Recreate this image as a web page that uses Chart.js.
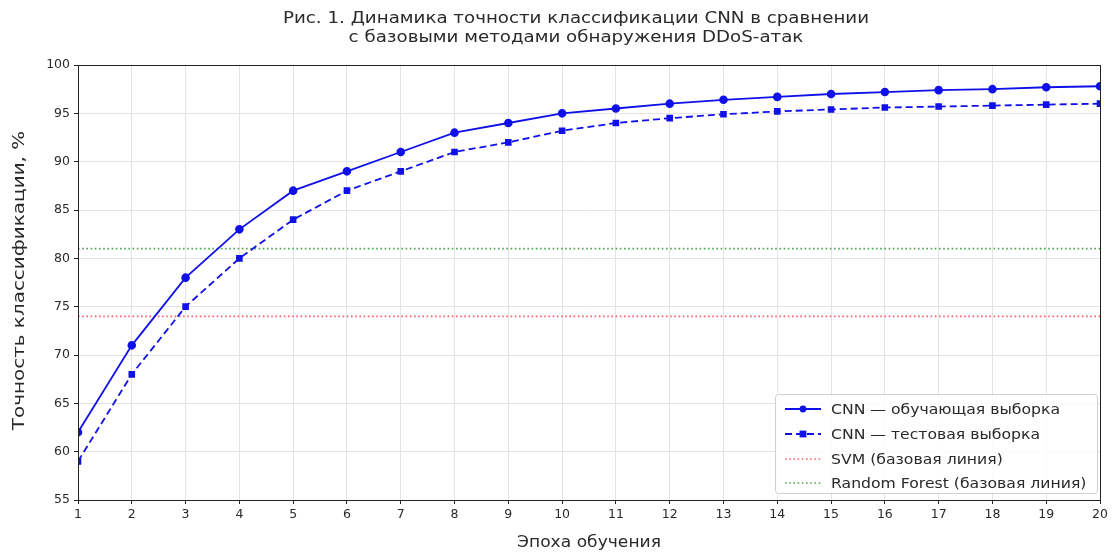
<!DOCTYPE html>
<html>
<head>
<meta charset="utf-8">
<script src="https://cdn.jsdelivr.net/npm/chart.js@4.4.1/dist/chart.umd.min.js"></script>
<style>
  html, body { margin: 0; padding: 0; background: #fff; }
  #c { display: block; }
</style>
</head>
<body>
<canvas id="c" width="1112" height="553"></canvas>
<script>
// Epochs and accuracy (%) per epoch
const epochs = [1, 2, 3, 4, 5, 6, 7, 8, 9, 10, 11, 12, 13, 14, 15, 16, 17, 18, 19, 20];
const trainAccuracy = [62, 71, 78, 83, 87, 89, 91, 93, 94, 95, 95.5, 96, 96.4, 96.7, 97, 97.2, 97.4, 97.5, 97.7, 97.8];
const testAccuracy  = [59, 68, 75, 80, 84, 87, 89, 91, 92, 93.2, 94, 94.5, 94.9, 95.2, 95.4, 95.6, 95.7, 95.8, 95.9, 96];
// Baseline methods (constant accuracy)
const svmBaseline = 74;
const rfBaseline = 81;
// Y axis ticks
const yTicks = [55, 60, 65, 70, 75, 80, 85, 90, 95, 100];

const seriesLabels = [
  'CNN — обучающая выборка',
  'CNN — тестовая выборка',
  'SVM (базовая линия)',
  'Random Forest (базовая линия)'
];
const titleLines = [
  'Рис. 1. Динамика точности классификации CNN в сравнении',
  'с базовыми методами обнаружения DDoS-атак'
];
const xAxisTitle = 'Эпоха обучения';
const yAxisTitle = 'Точность классификации, %';

const FONT = '"DejaVu Sans", sans-serif';
const BLUE = '#1010e8';
const TEXT = '#2a2a2a';

const toPoints = (xs, ys) => xs.map((x, i) => ({ x, y: ys[i] }));
const hline = v => [{ x: epochs[0], y: v }, { x: epochs[epochs.length - 1], y: v }];

// Text with a slightly widened face
function wideText(ctx, text, x, y, size, align, stretch, angle) {
  ctx.save();
  ctx.translate(x, y);
  if (angle) ctx.rotate(angle);
  ctx.scale(stretch, 1);
  ctx.font = size + 'px ' + FONT;
  ctx.textAlign = align;
  ctx.textBaseline = 'middle';
  ctx.fillText(text, 0, 0);
  ctx.restore();
}

// Title, axis titles, frame and in-plot legend
const decorations = {
  id: 'decorations',
  afterDraw(chart) {
    const { ctx, chartArea: a } = chart;
    const cx = (a.left + a.right) / 2;
    const cy = (a.top + a.bottom) / 2;
    ctx.save();
    // frame
    ctx.strokeStyle = '#222';
    ctx.lineWidth = 1;
    ctx.strokeRect(a.left + 0.5, a.top + 0.5, a.right - a.left, a.bottom - a.top);

    ctx.fillStyle = TEXT;
    // title
    wideText(ctx, titleLines[0], cx - 13, 19, 15, 'center', 1.215);
    wideText(ctx, titleLines[1], cx - 13, 38, 15, 'center', 1.215);
    // axis titles
    wideText(ctx, xAxisTitle, cx, 543, 15, 'center', 1.14);
    wideText(ctx, yAxisTitle, 20, cy - 2, 15, 'center', 1.33, -Math.PI / 2);

    // legend box in lower-right corner
    const bx = 775, by = 394, bw = 322, bh = 99;
    ctx.fillStyle = 'rgba(255,255,255,0.85)';
    ctx.strokeStyle = '#d0d0d0';
    ctx.lineWidth = 1;
    ctx.beginPath();
    ctx.roundRect(bx + 0.5, by + 0.5, bw, bh, 3);
    ctx.fill();
    ctx.stroke();

    const rowY = [409, 434, 459, 483];
    chart.data.datasets.forEach((ds, i) => {
      const y = rowY[i];
      ctx.strokeStyle = ds.borderColor;
      ctx.lineWidth = ds.borderWidth;
      ctx.setLineDash(ds.borderDash || []);
      ctx.beginPath();
      ctx.moveTo(785, y);
      ctx.lineTo(821, y);
      ctx.stroke();
      ctx.setLineDash([]);
      if (ds.pointRadius > 0) {
        ctx.fillStyle = ds.pointBackgroundColor;
        const r = ds.pointRadius;
        if (ds.pointStyle === 'rect') {
          ctx.fillRect(803 - r, y - r, 2 * r, 2 * r);
        } else {
          ctx.beginPath();
          ctx.arc(803, y, r, 0, Math.PI * 2);
          ctx.fill();
        }
      }
      ctx.fillStyle = TEXT;
      wideText(ctx, ds.label, 831, y + 1, 13.5, 'left', 1.16);
    });
    ctx.restore();
  }
};

new Chart(document.getElementById('c'), {
  type: 'line',
  data: {
    datasets: [
      {
        label: seriesLabels[0],
        data: toPoints(epochs, trainAccuracy),
        borderColor: BLUE,
        backgroundColor: BLUE,
        pointBackgroundColor: BLUE,
        pointBorderColor: BLUE,
        borderWidth: 1.8,
        pointStyle: 'circle',
        pointRadius: 3.4,
        tension: 0
      },
      {
        label: seriesLabels[1],
        data: toPoints(epochs, testAccuracy),
        borderColor: BLUE,
        backgroundColor: BLUE,
        pointBackgroundColor: BLUE,
        pointBorderColor: BLUE,
        borderWidth: 1.8,
        borderDash: [7, 4],
        pointStyle: 'rect',
        pointRadius: 3.4,
        tension: 0
      },
      {
        label: seriesLabels[2],
        data: hline(svmBaseline),
        borderColor: 'rgba(255,40,40,0.75)',
        pointBackgroundColor: 'rgba(255,40,40,0.75)',
        borderWidth: 1.6,
        borderDash: [1.6, 2.6],
        pointRadius: 0
      },
      {
        label: seriesLabels[3],
        data: hline(rfBaseline),
        borderColor: 'rgba(30,150,30,0.8)',
        pointBackgroundColor: 'rgba(30,150,30,0.8)',
        borderWidth: 1.6,
        borderDash: [1.6, 2.6],
        pointRadius: 0
      }
    ]
  },
  options: {
    responsive: false,
    animation: false,
    layout: { padding: { top: 65, right: 12, left: 0, bottom: 0 } },
    plugins: {
      legend: { display: false },
      title: { display: false },
      tooltip: { enabled: false }
    },
    scales: {
      x: {
        type: 'linear',
        min: epochs[0],
        max: epochs[epochs.length - 1],
        ticks: {
          stepSize: 1,
          autoSkip: false,
          color: TEXT,
          font: { family: FONT, size: 12.5 },
          padding: 3
        },
        grid: { color: '#e3e3e3', tickColor: '#222', tickLength: 4, lineWidth: 1 },
        border: { display: true, color: '#222' },
        afterFit(scale) { scale.height = 53; }
      },
      y: {
        type: 'linear',
        min: yTicks[0],
        max: yTicks[yTicks.length - 1],
        afterBuildTicks(scale) { scale.ticks = yTicks.map(v => ({ value: v })); },
        ticks: {
          color: TEXT,
          font: { family: FONT, size: 12.5 },
          padding: 4
        },
        grid: { color: '#e3e3e3', tickColor: '#222', tickLength: 4, lineWidth: 1 },
        border: { display: true, color: '#222' },
        afterFit(scale) { scale.width = 78; }
      }
    }
  },
  plugins: [decorations]
});
</script>
</body>
</html>
